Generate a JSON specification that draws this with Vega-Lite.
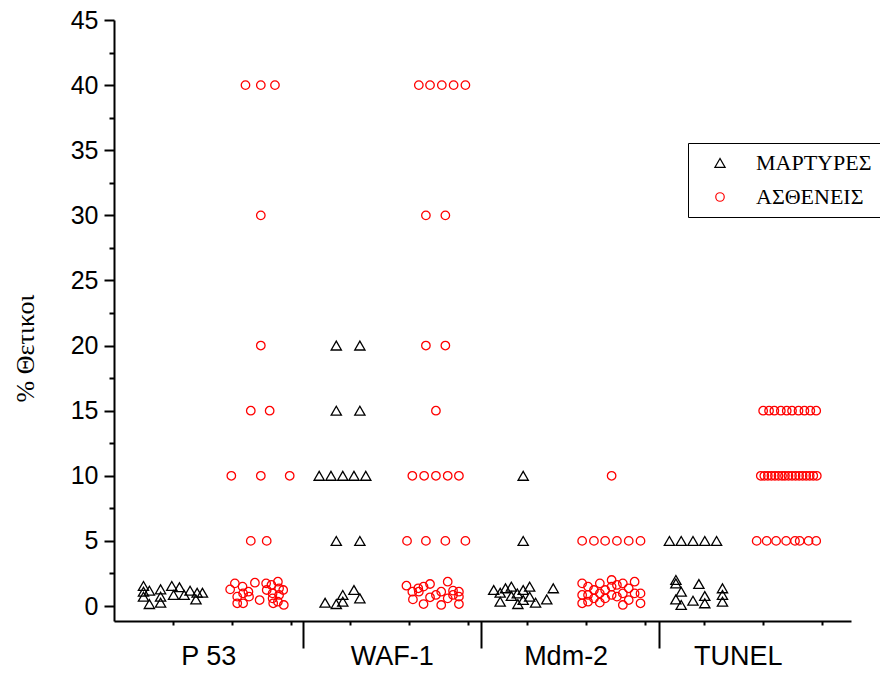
{
  "$schema": "https://vega.github.io/schema/vega-lite/v6.json",
  "autosize": "none",
  "width": 737,
  "height": 601,
  "padding": {"left": 114, "top": 20, "right": 29, "bottom": 53},
  "background": "white",
  "config": {
    "view": {"stroke": null},
    "axis": {"domainColor": "black", "domainWidth": 2, "tickColor": "black", "tickWidth": 2, "labelColor": "black", "labelFont": "Liberation Sans", "grid": false, "labelOverlap": false, "labelFlush": false, "labelBound": false}
  },
  "data": {"values": [
    {"g":"ΜΑΡΤΥΡΕΣ","x":0.50,"y":1.54},{"g":"ΜΑΡΤΥΡΕΣ","x":0.50,"y":1.10},{"g":"ΜΑΡΤΥΡΕΣ","x":0.50,"y":0.72},{"g":"ΜΑΡΤΥΡΕΣ","x":0.60,"y":1.18},{"g":"ΜΑΡΤΥΡΕΣ","x":0.60,"y":0.15},{"g":"ΜΑΡΤΥΡΕΣ","x":0.79,"y":1.28},{"g":"ΜΑΡΤΥΡΕΣ","x":0.79,"y":0.72},{"g":"ΜΑΡΤΥΡΕΣ","x":0.79,"y":0.26},{"g":"ΜΑΡΤΥΡΕΣ","x":0.98,"y":1.54},{"g":"ΜΑΡΤΥΡΕΣ","x":1.01,"y":0.85},{"g":"ΜΑΡΤΥΡΕΣ","x":1.11,"y":1.44},{"g":"ΜΑΡΤΥΡΕΣ","x":1.19,"y":0.85},{"g":"ΜΑΡΤΥΡΕΣ","x":1.29,"y":1.18},{"g":"ΜΑΡΤΥΡΕΣ","x":1.39,"y":0.51},{"g":"ΜΑΡΤΥΡΕΣ","x":1.41,"y":1.02},{"g":"ΜΑΡΤΥΡΕΣ","x":1.50,"y":1.02},
    {"g":"ΜΑΡΤΥΡΕΣ","x":3.77,"y":20},{"g":"ΜΑΡΤΥΡΕΣ","x":4.17,"y":20},{"g":"ΜΑΡΤΥΡΕΣ","x":3.77,"y":15},{"g":"ΜΑΡΤΥΡΕΣ","x":4.17,"y":15},{"g":"ΜΑΡΤΥΡΕΣ","x":3.48,"y":10},{"g":"ΜΑΡΤΥΡΕΣ","x":3.68,"y":10},{"g":"ΜΑΡΤΥΡΕΣ","x":3.88,"y":10},{"g":"ΜΑΡΤΥΡΕΣ","x":4.07,"y":10},{"g":"ΜΑΡΤΥΡΕΣ","x":4.27,"y":10},{"g":"ΜΑΡΤΥΡΕΣ","x":3.77,"y":5},{"g":"ΜΑΡΤΥΡΕΣ","x":4.17,"y":5},{"g":"ΜΑΡΤΥΡΕΣ","x":3.58,"y":0.25},{"g":"ΜΑΡΤΥΡΕΣ","x":3.77,"y":0.15},{"g":"ΜΑΡΤΥΡΕΣ","x":3.88,"y":0.85},{"g":"ΜΑΡΤΥΡΕΣ","x":3.88,"y":0.33},{"g":"ΜΑΡΤΥΡΕΣ","x":4.07,"y":1.23},{"g":"ΜΑΡΤΥΡΕΣ","x":4.17,"y":0.59},
    {"g":"ΜΑΡΤΥΡΕΣ","x":6.94,"y":10},{"g":"ΜΑΡΤΥΡΕΣ","x":6.94,"y":5},{"g":"ΜΑΡΤΥΡΕΣ","x":6.44,"y":1.23},{"g":"ΜΑΡΤΥΡΕΣ","x":6.55,"y":1.02},{"g":"ΜΑΡΤΥΡΕΣ","x":6.55,"y":0.33},{"g":"ΜΑΡΤΥΡΕΣ","x":6.64,"y":1.36},{"g":"ΜΑΡΤΥΡΕΣ","x":6.74,"y":1.49},{"g":"ΜΑΡΤΥΡΕΣ","x":6.74,"y":0.77},{"g":"ΜΑΡΤΥΡΕΣ","x":6.84,"y":0.97},{"g":"ΜΑΡΤΥΡΕΣ","x":6.85,"y":0.15},{"g":"ΜΑΡΤΥΡΕΣ","x":6.94,"y":1.23},{"g":"ΜΑΡΤΥΡΕΣ","x":6.94,"y":0.46},{"g":"ΜΑΡΤΥΡΕΣ","x":7.05,"y":1.49},{"g":"ΜΑΡΤΥΡΕΣ","x":7.05,"y":0.72},{"g":"ΜΑΡΤΥΡΕΣ","x":7.15,"y":0.26},{"g":"ΜΑΡΤΥΡΕΣ","x":7.34,"y":0.51},{"g":"ΜΑΡΤΥΡΕΣ","x":7.45,"y":1.36},
    {"g":"ΜΑΡΤΥΡΕΣ","x":9.42,"y":5},{"g":"ΜΑΡΤΥΡΕΣ","x":9.62,"y":5},{"g":"ΜΑΡΤΥΡΕΣ","x":9.82,"y":5},{"g":"ΜΑΡΤΥΡΕΣ","x":10.02,"y":5},{"g":"ΜΑΡΤΥΡΕΣ","x":10.22,"y":5},{"g":"ΜΑΡΤΥΡΕΣ","x":9.53,"y":2.0},{"g":"ΜΑΡΤΥΡΕΣ","x":9.53,"y":1.74},{"g":"ΜΑΡΤΥΡΕΣ","x":9.53,"y":0.51},{"g":"ΜΑΡΤΥΡΕΣ","x":9.62,"y":1.10},{"g":"ΜΑΡΤΥΡΕΣ","x":9.62,"y":0.08},{"g":"ΜΑΡΤΥΡΕΣ","x":9.82,"y":0.41},{"g":"ΜΑΡΤΥΡΕΣ","x":9.92,"y":1.69},{"g":"ΜΑΡΤΥΡΕΣ","x":10.02,"y":0.77},{"g":"ΜΑΡΤΥΡΕΣ","x":10.02,"y":0.21},{"g":"ΜΑΡΤΥΡΕΣ","x":10.32,"y":1.36},{"g":"ΜΑΡΤΥΡΕΣ","x":10.32,"y":0.85},{"g":"ΜΑΡΤΥΡΕΣ","x":10.32,"y":0.33},
    {"g":"ΑΣΘΕΝΕΙΣ","x":1.97,"y":1.28},{"g":"ΑΣΘΕΝΕΙΣ","x":2.05,"y":1.74},{"g":"ΑΣΘΕΝΕΙΣ","x":2.09,"y":0.72},{"g":"ΑΣΘΕΝΕΙΣ","x":2.09,"y":0.21},{"g":"ΑΣΘΕΝΕΙΣ","x":2.18,"y":1.49},{"g":"ΑΣΘΕΝΕΙΣ","x":2.19,"y":0.97},{"g":"ΑΣΘΕΝΕΙΣ","x":2.19,"y":0.21},{"g":"ΑΣΘΕΝΕΙΣ","x":2.28,"y":1.10},{"g":"ΑΣΘΕΝΕΙΣ","x":2.29,"y":0.72},{"g":"ΑΣΘΕΝΕΙΣ","x":2.39,"y":1.79},{"g":"ΑΣΘΕΝΕΙΣ","x":2.47,"y":0.46},{"g":"ΑΣΘΕΝΕΙΣ","x":2.58,"y":1.74},{"g":"ΑΣΘΕΝΕΙΣ","x":2.59,"y":1.23},{"g":"ΑΣΘΕΝΕΙΣ","x":2.67,"y":1.62},{"g":"ΑΣΘΕΝΕΙΣ","x":2.69,"y":0.97},{"g":"ΑΣΘΕΝΕΙΣ","x":2.69,"y":0.59},{"g":"ΑΣΘΕΝΕΙΣ","x":2.70,"y":0.21},{"g":"ΑΣΘΕΝΕΙΣ","x":2.78,"y":1.87},{"g":"ΑΣΘΕΝΕΙΣ","x":2.80,"y":1.36},{"g":"ΑΣΘΕΝΕΙΣ","x":2.80,"y":0.85},{"g":"ΑΣΘΕΝΕΙΣ","x":2.87,"y":1.23},{"g":"ΑΣΘΕΝΕΙΣ","x":2.88,"y":0.08},{"g":"ΑΣΘΕΝΕΙΣ","x":2.78,"y":0.33},
    {"g":"ΑΣΘΕΝΕΙΣ","x":2.23,"y":40},{"g":"ΑΣΘΕΝΕΙΣ","x":2.49,"y":40},{"g":"ΑΣΘΕΝΕΙΣ","x":2.73,"y":40},{"g":"ΑΣΘΕΝΕΙΣ","x":2.49,"y":30},{"g":"ΑΣΘΕΝΕΙΣ","x":2.49,"y":20},{"g":"ΑΣΘΕΝΕΙΣ","x":2.32,"y":15},{"g":"ΑΣΘΕΝΕΙΣ","x":2.64,"y":15},{"g":"ΑΣΘΕΝΕΙΣ","x":1.99,"y":10},{"g":"ΑΣΘΕΝΕΙΣ","x":2.49,"y":10},{"g":"ΑΣΘΕΝΕΙΣ","x":2.98,"y":10},{"g":"ΑΣΘΕΝΕΙΣ","x":2.32,"y":5},{"g":"ΑΣΘΕΝΕΙΣ","x":2.59,"y":5},
    {"g":"ΑΣΘΕΝΕΙΣ","x":5.17,"y":40},{"g":"ΑΣΘΕΝΕΙΣ","x":5.36,"y":40},{"g":"ΑΣΘΕΝΕΙΣ","x":5.56,"y":40},{"g":"ΑΣΘΕΝΕΙΣ","x":5.76,"y":40},{"g":"ΑΣΘΕΝΕΙΣ","x":5.96,"y":40},{"g":"ΑΣΘΕΝΕΙΣ","x":5.29,"y":30},{"g":"ΑΣΘΕΝΕΙΣ","x":5.62,"y":30},{"g":"ΑΣΘΕΝΕΙΣ","x":5.29,"y":20},{"g":"ΑΣΘΕΝΕΙΣ","x":5.62,"y":20},{"g":"ΑΣΘΕΝΕΙΣ","x":5.46,"y":15},{"g":"ΑΣΘΕΝΕΙΣ","x":5.06,"y":10},{"g":"ΑΣΘΕΝΕΙΣ","x":5.26,"y":10},{"g":"ΑΣΘΕΝΕΙΣ","x":5.46,"y":10},{"g":"ΑΣΘΕΝΕΙΣ","x":5.66,"y":10},{"g":"ΑΣΘΕΝΕΙΣ","x":5.85,"y":10},{"g":"ΑΣΘΕΝΕΙΣ","x":4.97,"y":5},{"g":"ΑΣΘΕΝΕΙΣ","x":5.29,"y":5},{"g":"ΑΣΘΕΝΕΙΣ","x":5.62,"y":5},{"g":"ΑΣΘΕΝΕΙΣ","x":5.96,"y":5},
    {"g":"ΑΣΘΕΝΕΙΣ","x":4.96,"y":1.56},{"g":"ΑΣΘΕΝΕΙΣ","x":5.06,"y":1.10},{"g":"ΑΣΘΕΝΕΙΣ","x":5.07,"y":0.51},{"g":"ΑΣΘΕΝΕΙΣ","x":5.16,"y":1.36},{"g":"ΑΣΘΕΝΕΙΣ","x":5.17,"y":1.10},{"g":"ΑΣΘΕΝΕΙΣ","x":5.25,"y":1.49},{"g":"ΑΣΘΕΝΕΙΣ","x":5.36,"y":1.69},{"g":"ΑΣΘΕΝΕΙΣ","x":5.25,"y":0.15},{"g":"ΑΣΘΕΝΕΙΣ","x":5.36,"y":0.67},{"g":"ΑΣΘΕΝΕΙΣ","x":5.46,"y":0.85},{"g":"ΑΣΘΕΝΕΙΣ","x":5.55,"y":1.10},{"g":"ΑΣΘΕΝΕΙΣ","x":5.55,"y":0.08},{"g":"ΑΣΘΕΝΕΙΣ","x":5.66,"y":1.87},{"g":"ΑΣΘΕΝΕΙΣ","x":5.66,"y":0.59},{"g":"ΑΣΘΕΝΕΙΣ","x":5.75,"y":1.18},{"g":"ΑΣΘΕΝΕΙΣ","x":5.85,"y":1.10},{"g":"ΑΣΘΕΝΕΙΣ","x":5.85,"y":0.72},{"g":"ΑΣΘΕΝΕΙΣ","x":5.85,"y":0.15},{"g":"ΑΣΘΕΝΕΙΣ","x":5.75,"y":0.85},
    {"g":"ΑΣΘΕΝΕΙΣ","x":8.44,"y":10},{"g":"ΑΣΘΕΝΕΙΣ","x":7.94,"y":5},{"g":"ΑΣΘΕΝΕΙΣ","x":8.14,"y":5},{"g":"ΑΣΘΕΝΕΙΣ","x":8.33,"y":5},{"g":"ΑΣΘΕΝΕΙΣ","x":8.53,"y":5},{"g":"ΑΣΘΕΝΕΙΣ","x":8.73,"y":5},{"g":"ΑΣΘΕΝΕΙΣ","x":8.93,"y":5},
    {"g":"ΑΣΘΕΝΕΙΣ","x":7.94,"y":1.74},{"g":"ΑΣΘΕΝΕΙΣ","x":7.94,"y":0.85},{"g":"ΑΣΘΕΝΕΙΣ","x":7.94,"y":0.21},{"g":"ΑΣΘΕΝΕΙΣ","x":8.04,"y":1.49},{"g":"ΑΣΘΕΝΕΙΣ","x":8.04,"y":0.33},{"g":"ΑΣΘΕΝΕΙΣ","x":8.04,"y":0.85},{"g":"ΑΣΘΕΝΕΙΣ","x":8.14,"y":1.23},{"g":"ΑΣΘΕΝΕΙΣ","x":8.14,"y":0.59},{"g":"ΑΣΘΕΝΕΙΣ","x":8.24,"y":1.74},{"g":"ΑΣΘΕΝΕΙΣ","x":8.24,"y":0.97},{"g":"ΑΣΘΕΝΕΙΣ","x":8.24,"y":0.26},{"g":"ΑΣΘΕΝΕΙΣ","x":8.33,"y":1.23},{"g":"ΑΣΘΕΝΕΙΣ","x":8.33,"y":0.59},{"g":"ΑΣΘΕΝΕΙΣ","x":8.44,"y":2.0},{"g":"ΑΣΘΕΝΕΙΣ","x":8.44,"y":1.49},{"g":"ΑΣΘΕΝΕΙΣ","x":8.44,"y":0.85},{"g":"ΑΣΘΕΝΕΙΣ","x":8.53,"y":1.62},{"g":"ΑΣΘΕΝΕΙΣ","x":8.53,"y":0.72},{"g":"ΑΣΘΕΝΕΙΣ","x":8.63,"y":1.74},{"g":"ΑΣΘΕΝΕΙΣ","x":8.63,"y":0.97},{"g":"ΑΣΘΕΝΕΙΣ","x":8.63,"y":0.08},{"g":"ΑΣΘΕΝΕΙΣ","x":8.73,"y":1.36},{"g":"ΑΣΘΕΝΕΙΣ","x":8.73,"y":0.46},{"g":"ΑΣΘΕΝΕΙΣ","x":8.83,"y":1.87},{"g":"ΑΣΘΕΝΕΙΣ","x":8.83,"y":0.97},{"g":"ΑΣΘΕΝΕΙΣ","x":8.93,"y":0.97},{"g":"ΑΣΘΕΝΕΙΣ","x":8.93,"y":0.21},
    {"g":"ΑΣΘΕΝΕΙΣ","x":11.01,"y":15},{"g":"ΑΣΘΕΝΕΙΣ","x":11.11,"y":15},{"g":"ΑΣΘΕΝΕΙΣ","x":11.20,"y":15},{"g":"ΑΣΘΕΝΕΙΣ","x":11.31,"y":15},{"g":"ΑΣΘΕΝΕΙΣ","x":11.41,"y":15},{"g":"ΑΣΘΕΝΕΙΣ","x":11.50,"y":15},{"g":"ΑΣΘΕΝΕΙΣ","x":11.61,"y":15},{"g":"ΑΣΘΕΝΕΙΣ","x":11.71,"y":15},{"g":"ΑΣΘΕΝΕΙΣ","x":11.81,"y":15},{"g":"ΑΣΘΕΝΕΙΣ","x":11.91,"y":15},
    {"g":"ΑΣΘΕΝΕΙΣ","x":10.97,"y":10},{"g":"ΑΣΘΕΝΕΙΣ","x":11.03,"y":10},{"g":"ΑΣΘΕΝΕΙΣ","x":11.09,"y":10},{"g":"ΑΣΘΕΝΕΙΣ","x":11.15,"y":10},{"g":"ΑΣΘΕΝΕΙΣ","x":11.21,"y":10},{"g":"ΑΣΘΕΝΕΙΣ","x":11.27,"y":10},{"g":"ΑΣΘΕΝΕΙΣ","x":11.33,"y":10},{"g":"ΑΣΘΕΝΕΙΣ","x":11.38,"y":10},{"g":"ΑΣΘΕΝΕΙΣ","x":11.44,"y":10},{"g":"ΑΣΘΕΝΕΙΣ","x":11.50,"y":10},{"g":"ΑΣΘΕΝΕΙΣ","x":11.56,"y":10},{"g":"ΑΣΘΕΝΕΙΣ","x":11.62,"y":10},{"g":"ΑΣΘΕΝΕΙΣ","x":11.68,"y":10},{"g":"ΑΣΘΕΝΕΙΣ","x":11.74,"y":10},{"g":"ΑΣΘΕΝΕΙΣ","x":11.80,"y":10},{"g":"ΑΣΘΕΝΕΙΣ","x":11.86,"y":10},{"g":"ΑΣΘΕΝΕΙΣ","x":11.92,"y":10},
    {"g":"ΑΣΘΕΝΕΙΣ","x":10.90,"y":5},{"g":"ΑΣΘΕΝΕΙΣ","x":11.07,"y":5},{"g":"ΑΣΘΕΝΕΙΣ","x":11.23,"y":5},{"g":"ΑΣΘΕΝΕΙΣ","x":11.40,"y":5},{"g":"ΑΣΘΕΝΕΙΣ","x":11.55,"y":5},{"g":"ΑΣΘΕΝΕΙΣ","x":11.63,"y":5},{"g":"ΑΣΘΕΝΕΙΣ","x":11.78,"y":5},{"g":"ΑΣΘΕΝΕΙΣ","x":11.91,"y":5}
  ]},
  "mark": {"type": "point", "filled": false, "strokeWidth": 1.3, "opacity": 1},
  "encoding": {
    "x": {
      "field": "x", "type": "quantitative",
      "scale": {"domain": [0, 12.5], "nice": false, "zero": false},
      "axis": {
        "title": null,
        "values": [1, 1.6, 2, 3, 3.2, 4, 4.71, 5, 6, 6.22, 7, 7.66, 8, 9, 9.24, 10, 10.58, 11, 12],
        "labelExpr": "datum.value == 1.6 ? 'P 53' : datum.value == 4.71 ? 'WAF-1' : datum.value == 7.66 ? 'Mdm-2' : datum.value == 10.58 ? 'TUNEL' : ''",
        "labelFontSize": 27,
        "labelPadding": 18,
        "tickSize": {"condition": {"test": "datum.value == 3.2 || datum.value == 6.22 || datum.value == 9.24", "value": 27}, "value": 4},
        "tickOpacity": {"condition": {"test": "datum.value == 1.6 || datum.value == 4.71 || datum.value == 7.66 || datum.value == 10.58", "value": 0}, "value": 1}
      }
    },
    "y": {
      "field": "y", "type": "quantitative",
      "scale": {"domain": [-1.15, 45], "nice": false, "zero": false},
      "axis": {
        "title": "% Θετικοι",
        "titleFont": "Liberation Serif", "titleFontSize": 26, "titleFontWeight": "normal", "titleColor": "black",
        "titleAngle": -90, "titleAlign": "center", "titleBaseline": "middle", "titleX": -89, "titleY": 328,
        "values": [0, 2.5, 5, 7.5, 10, 12.5, 15, 17.5, 20, 22.5, 25, 27.5, 30, 32.5, 35, 37.5, 40, 42.5, 45],
        "labelExpr": "datum.value % 5 == 0 ? datum.label : ''",
        "labelFontSize": 25,
        "labelPadding": 6,
        "tickSize": {"condition": {"test": "datum.value % 5 != 0", "value": 5}, "value": 10}
      }
    },
    "size": {
      "field": "g", "type": "nominal",
      "scale": {"domain": ["ΜΑΡΤΥΡΕΣ", "ΑΣΘΕΝΕΙΣ"], "range": [105, 72]},
      "legend": null
    },
    "shape": {
      "field": "g", "type": "nominal",
      "scale": {"domain": ["ΜΑΡΤΥΡΕΣ", "ΑΣΘΕΝΕΙΣ"], "range": ["triangle-up", "circle"]},
      "legend": {
        "title": null, "orient": "none", "legendX": 574, "legendY": 123,
        "strokeColor": "black", "padding": 9, "symbolOffset": 12, "labelOffset": 25,
        "labelFont": "Liberation Serif", "labelFontSize": 22, "labelColor": "black", "labelLimit": 300,
        "symbolSize": 36, "symbolStrokeWidth": 1.2, "rowPadding": 12, "symbolFillColor": "transparent"
      }
    },
    "color": {
      "field": "g", "type": "nominal",
      "scale": {"domain": ["ΜΑΡΤΥΡΕΣ", "ΑΣΘΕΝΕΙΣ"], "range": ["black", "red"]},
      "legend": {
        "title": null, "orient": "none", "legendX": 574, "legendY": 123,
        "strokeColor": "black", "padding": 9, "symbolOffset": 12, "labelOffset": 25,
        "labelFont": "Liberation Serif", "labelFontSize": 22, "labelColor": "black", "labelLimit": 300,
        "symbolSize": 36, "symbolStrokeWidth": 1.2, "rowPadding": 12, "symbolFillColor": "transparent"
      }
    }
  }
}
